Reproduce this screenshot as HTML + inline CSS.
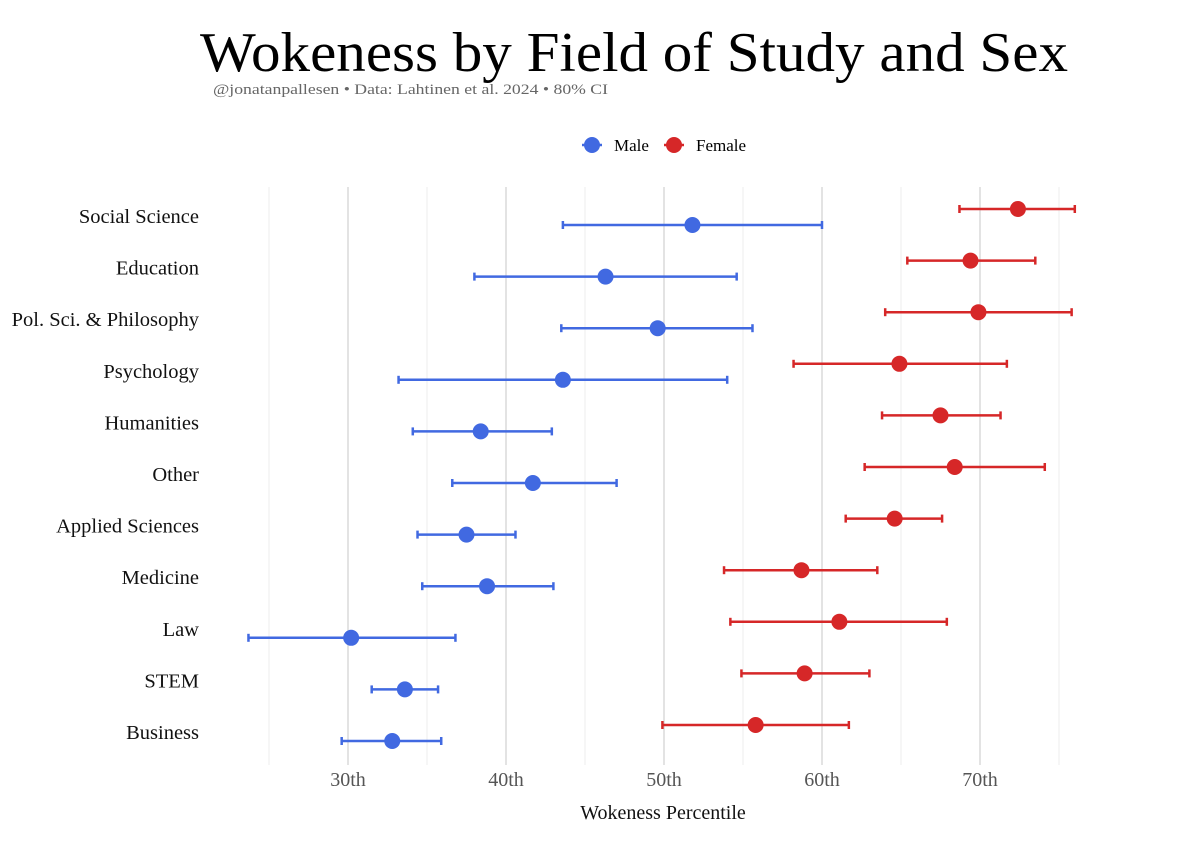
<!DOCTYPE html>
<html><head><meta charset="utf-8"><style>
body{margin:0;background:#fff;}
svg text{font-family:"Liberation Serif",serif;}
</style></head><body>
<svg id="chart" width="1200" height="840" xmlns="http://www.w3.org/2000/svg">
<text x="200" y="71" font-size="56" fill="#000" textLength="868" lengthAdjust="spacingAndGlyphs">Wokeness by Field of Study and Sex</text>
<text x="213" y="94" font-size="15" fill="#666" textLength="395" lengthAdjust="spacingAndGlyphs">@jonatanpallesen •  Data: Lahtinen et al. 2024 •  80% CI</text>
<g>
<g><line x1="582" y1="145" x2="602" y2="145" stroke="#4169E1" stroke-width="2.5"/><circle cx="592" cy="145" r="8" fill="#4169E1"/><text x="614" y="151" font-size="17">Male</text></g>
<g><line x1="664" y1="145" x2="684" y2="145" stroke="#D62728" stroke-width="2.5"/><circle cx="674" cy="145" r="8" fill="#D62728"/><text x="696" y="151" font-size="17">Female</text></g>
</g>
<g id="grid"></g><g id="marks"></g>
<text x="663" y="819" text-anchor="middle" font-size="20" fill="#111">Wokeness Percentile</text>
</svg>
<script>
const categories=["Social Science","Education","Pol. Sci. & Philosophy","Psychology","Humanities","Other","Applied Sciences","Medicine","Law","STEM","Business"];
const maleMean=[51.8,46.3,49.6,43.6,38.4,41.7,37.5,38.8,30.2,33.6,32.8];
const maleLow=[43.6,38.0,43.5,33.2,34.1,36.6,34.4,34.7,23.7,31.5,29.6];
const maleHigh=[60.0,54.6,55.6,54.0,42.9,47.0,40.6,43.0,36.8,35.7,35.9];
const femaleMean=[72.4,69.4,69.9,64.9,67.5,68.4,64.6,58.7,61.1,58.9,55.8];
const femaleLow=[68.7,65.4,64.0,58.2,63.8,62.7,61.5,53.8,54.2,54.9,49.9];
const femaleHigh=[76.0,73.5,75.8,71.7,71.3,74.1,67.6,63.5,67.9,63.0,61.7];
const tickValues=[30,40,50,60,70];
const tickLabels=["30th","40th","50th","60th","70th"];
const minorValues=[25,35,45,55,65,75];
const NS="http://www.w3.org/2000/svg";
const x=v=>348+(v-30)*15.8;
const y=i=>217+i*51.6;
function mk(tag,attrs,parent){const e=document.createElementNS(NS,tag);for(const k in attrs)e.setAttribute(k,attrs[k]);parent.appendChild(e);return e;}
const grid=document.getElementById('grid'),marks=document.getElementById('marks');
minorValues.forEach(v=>{const l=mk('line',{x1:x(v),x2:x(v),y1:187,y2:765,stroke:'#efefef','stroke-width':1.2},grid);

});
tickValues.forEach((v,i)=>{const l=mk('line',{x1:x(v),x2:x(v),y1:187,y2:765,stroke:'#e0e0e0','stroke-width':1.8},grid);


const t=mk('text',{x:x(v),y:786,'text-anchor':'middle','font-size':20,fill:'#555'},grid);t.textContent=tickLabels[i];

});
function series(mean,lo,hi,off,col,name){
mean.forEach((m,i)=>{const yy=y(i)+off;
const g=mk('g',{},marks);


mk('line',{x1:x(lo[i]),x2:x(hi[i]),y1:yy,y2:yy,stroke:col,'stroke-width':2.5},g);
mk('line',{x1:x(lo[i]),x2:x(lo[i]),y1:yy-4,y2:yy+4,stroke:col,'stroke-width':2.5},g);
mk('line',{x1:x(hi[i]),x2:x(hi[i]),y1:yy-4,y2:yy+4,stroke:col,'stroke-width':2.5},g);
mk('circle',{cx:x(m),cy:yy,r:8,fill:col},g);});}
series(maleMean,maleLow,maleHigh,8,'#4169E1','male');
series(femaleMean,femaleLow,femaleHigh,-8,'#D62728','female');
categories.forEach((c,i)=>{const t=mk('text',{x:199,y:y(i)+6,'text-anchor':'end','font-size':20.5,fill:'#111'},marks);t.textContent=c;

});
</script>
</body></html>
